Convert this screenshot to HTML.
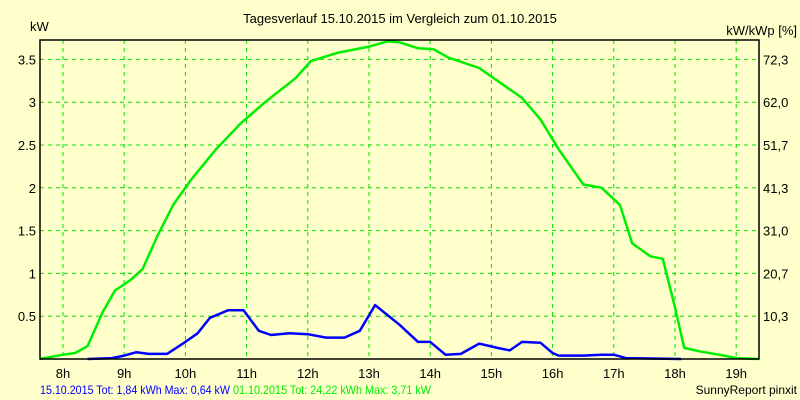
<!DOCTYPE html>
<html><head><meta charset="utf-8"><style>
body{margin:0;background:#ffffcc;}
svg{display:block;font-family:"Liberation Sans",Arial,sans-serif;}
</style></head><body>
<svg id="chart" width="800" height="400" viewBox="0 0 800 400">
<rect x="0" y="0" width="800" height="400" fill="#ffffcc"/>
<text x="400" y="23" font-size="13" text-anchor="middle">Tagesverlauf 15.10.2015 im Vergleich zum 01.10.2015</text>
<text x="30" y="31" font-size="13">kW</text>
<text x="797" y="35" font-size="13" text-anchor="end">kW/kWp [%]</text>
<g id="grid"></g>
<g id="series"></g>
<rect x="40" y="40" width="719" height="319" fill="none" stroke="#000" stroke-width="1.5"/>
<g id="labels"></g>
<text x="40" y="394" font-size="12" fill="#0000ff" textLength="190" lengthAdjust="spacingAndGlyphs">15.10.2015 Tot: 1,84 kWh Max: 0,64 kW</text>
<text x="233" y="394" font-size="12" fill="#00ee00" textLength="198" lengthAdjust="spacingAndGlyphs">01.10.2015 Tot: 24,22 kWh Max: 3,71 kW</text>
<text x="797" y="394" font-size="12" text-anchor="end">SunnyReport pinxit</text>
</svg>
<script>
const hourTicks=[8,9,10,11,12,13,14,15,16,17,18,19];
const kwTicks=[0.5,1,1.5,2,2.5,3,3.5];
const kwTickLabels=["0.5","1","1.5","2","2.5","3","3.5"];
const pctTickLabels=["10,3","20,7","31,0","41,3","51,7","62,0","72,3"];
const greenTimes=[7.62,8.0,8.2,8.4,8.65,8.85,9.1,9.3,9.55,9.8,10.1,10.5,10.9,11.3,11.8,12.05,12.5,13.0,13.3,13.5,13.8,14.05,14.3,14.8,15.1,15.5,15.8,16.1,16.5,16.8,17.1,17.3,17.6,17.8,18.0,18.15,18.4,18.8,19.0,19.37];
const greenValues=[0,0.05,0.07,0.15,0.55,0.8,0.92,1.05,1.45,1.8,2.1,2.45,2.75,3.0,3.28,3.48,3.58,3.65,3.71,3.7,3.63,3.62,3.52,3.4,3.25,3.05,2.8,2.45,2.04,2.0,1.8,1.35,1.2,1.17,0.6,0.13,0.09,0.04,0.01,0];
const blueTimes=[8.4,8.8,9.0,9.2,9.4,9.7,10.0,10.2,10.4,10.7,10.95,11.2,11.4,11.7,12.0,12.3,12.6,12.85,13.1,13.5,13.8,14.0,14.25,14.5,14.8,15.1,15.3,15.5,15.8,16.0,16.1,16.5,16.8,17.0,17.2,18.1];
const blueValues=[0,0.01,0.04,0.08,0.06,0.06,0.2,0.3,0.48,0.57,0.57,0.33,0.28,0.3,0.29,0.25,0.25,0.33,0.63,0.4,0.2,0.2,0.05,0.06,0.18,0.13,0.1,0.2,0.19,0.07,0.04,0.04,0.05,0.05,0.01,0];
const NS="http://www.w3.org/2000/svg";
function xScale(h){return 63+(h-8)*61.2;}
function yScale(v){return 359-v*85.6;}
const grid=document.getElementById('grid'),labels=document.getElementById('labels'),series=document.getElementById('series');
function mk(tag,attrs,parent){const e=document.createElementNS(NS,tag);for(const k in attrs)e.setAttribute(k,attrs[k]);parent.appendChild(e);return e;}
hourTicks.forEach((h)=>{
  const l=mk('line',{x1:xScale(h),x2:xScale(h),y1:40,y2:359,stroke:'#00e000','stroke-dasharray':'4,4'},grid);
  
  
  const t=mk('text',{x:xScale(h),y:378,'font-size':13,'text-anchor':'middle'},labels);
  t.textContent=h+'h';
  
  
});
kwTicks.forEach((v,i)=>{
  const l=mk('line',{x1:40,x2:759,y1:yScale(v),y2:yScale(v),stroke:'#00e000','stroke-dasharray':'4,4'},grid);
  
  
  const t=mk('text',{x:36,y:yScale(v)+5,'font-size':13,'text-anchor':'end'},labels);
  t.textContent=kwTickLabels[i];
  
  
  const r=mk('text',{x:763,y:yScale(v)+5,'font-size':13},labels);
  r.textContent=pctTickLabels[i];
  
  
});
function pts(ts,vs){return ts.map((t,i)=>xScale(t).toFixed(1)+','+yScale(vs[i]).toFixed(1)).join(' ');}
const g=mk('polyline',{points:pts(greenTimes,greenValues),fill:'none',stroke:'#00ee00','stroke-width':2.5,'stroke-linejoin':'round'},series);


const b=mk('polyline',{points:pts(blueTimes,blueValues),fill:'none',stroke:'#0000ff','stroke-width':2.5,'stroke-linejoin':'round'},series);


</script>
</body></html>
